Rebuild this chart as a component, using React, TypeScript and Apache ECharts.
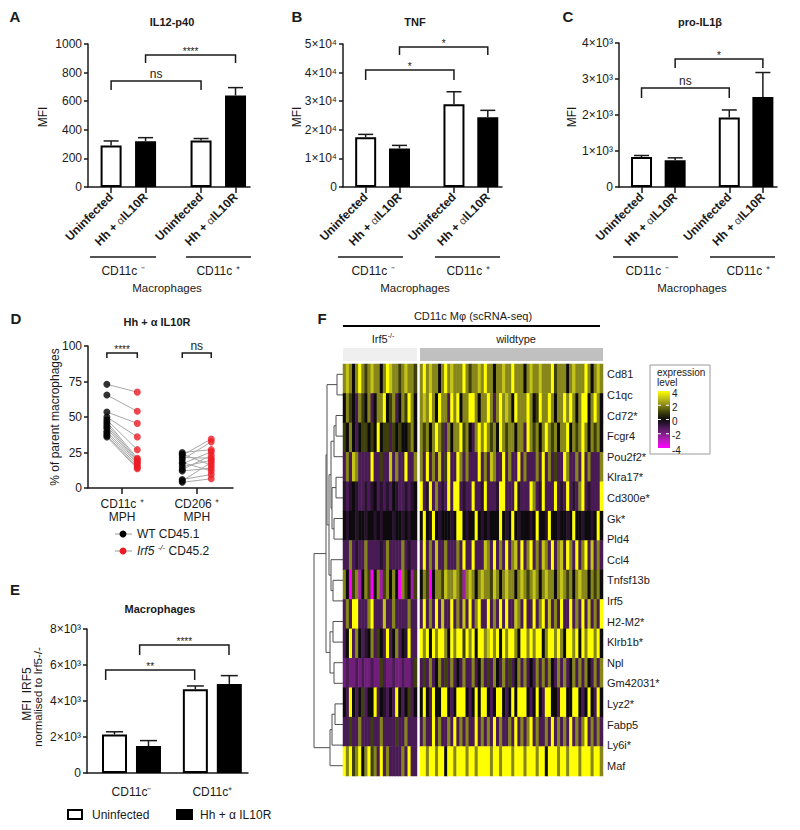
import React, { useEffect, useRef } from 'react';
import * as echarts from 'echarts';

const FONT = '"Liberation Sans", Arial, Helvetica, sans-serif';
const INK = '#1a1a1a';

// ---------- Panels A, B, C, E (bar charts): bar x positions ----------
const barPositions = [0.67, 1.67, 3.28, 4.28];
const irf5BarPositions = [0.81, 1.81, 3.19, 4.19];
const irf5GroupCenters = [1.31, 3.69];

const il12Mean = [290, 320, 325, 640];
const il12Sem = [32, 25, 14, 55];
const il12Ticks = ['0', '200', '400', '600', '800', '1000'];
const il12Brackets = [[1.67, 4.28, 923, 867], [0.67, 3.28, 741, 678]];
const il12BracketLabels = ['****', 'ns'];

const tnfMean = [17400, 13500, 28900, 24400];
const tnfSem = [1000, 1050, 4400, 2400];
const tnfTicks = ['0', '1×10⁴', '2×10⁴', '3×10⁴', '4×10⁴', '5×10⁴'];
const tnfBrackets = [[1.67, 4.28, 48950, 46150], [0.67, 3.28, 40900, 37400]];
const tnfBracketLabels = ['*', '*'];

const il1bMean = [830, 740, 1930, 2500];
const il1bSem = [45, 70, 210, 680];
const il1bTicks = ['0', '1×10³', '2×10³', '3×10³', '4×10³'];
const il1bBrackets = [[1.67, 4.28, 3555, 3305], [0.67, 3.28, 2750, 2472]];
const il1bBracketLabels = ['*', 'ns'];

const irf5Mean = [2140, 1500, 4650, 4950];
const irf5Sem = [150, 300, 185, 460];
const irf5Ticks = ['0', '2×10³', '4×10³', '6×10³', '8×10³'];
const irf5Brackets = [[1.55, 4.18, 7111, 6555], [0.55, 3.17, 5722, 5167]];
const irf5BracketLabels = ['****', '**'];

// ---------- Panel D (paired dots) ----------
const dPositions = [1.3, 3.4, 6.5, 8.5];
const dCategoryCenters = [2.35, 7.5];
const dCategoryLabels = ['CD11c ⁺\nMPH', 'CD206 ⁺\nMPH'];
const dTicks = ['0', '25', '50', '75', '100'];
const wtCd11c = [73, 65.5, 53.5, 50, 48, 46.5, 45, 43.5, 42, 40, 38.5, 37, 36];
const irf5Cd11c = [67.5, 54, 45.5, 36, 27, 21, 20, 19, 18, 17, 15.5, 14.5, 13.5];
const wtCd206 = [25, 24, 23, 21.5, 20, 18, 17, 15, 13, 12, 6, 5, 4];
const irf5Cd206 = [27, 16, 34.5, 21, 32.5, 12, 25.5, 19.5, 23, 14, 9.5, 18, 6.5];
const dBrackets = [[1.3, 3.4, 95, 91.5], [6.5, 8.5, 95, 91.5]];
const dBracketLabels = ['****', 'ns'];

// ---------- Panel F (heatmap) ----------
const genes = ['Cd81', 'C1qc', 'Cd72*', 'Fcgr4', 'Pou2f2*', 'Klra17*', 'Cd300e*', 'Gk*', 'Pld4', 'Ccl4',
  'Tnfsf13b', 'Irf5', 'H2-M2*', 'Klrb1b*', 'Npl', 'Gm42031*', 'Lyz2*', 'Fabp5', 'Ly6i*', 'Maf'];
// expression level codes (Irf5-/- cells | wildtype cells)
const heatCode: Record<string, number> = { M: -4, m: -2.5, n: -1.8, p: -1.1, d: -0.5, k: 0, o: 1, O: 2, y: 3, Y: 4 };
const heatRows = [
  'OyOkOY OoOyOO kOYyOO oOyOOo | OYOyOOkOYO yOOOYOoOOy OYOOkOOyOO YOOOkOyOOy OOOYoOOOkO yOOOYOkOyO',
  'kOokpO okOpkO OYkoOp kOoYOk | OyOYOkYOOp YOYkOOYYOk OOYOpOYOyO kYOOOYOkoY OOYOkOOYOY OkOYYkOYOk',
  'okOkpk ookokY koopok okkoOk | OoOkOYOopO kOOYoOkpOY OYOoOkYOoO OkOOpYOoOk OYOoOkOOYk OoOYOkOoOk',
  'pOpyOp pppYpp oppypO ppYppO | OpYpOpypoY ppYOpOpppY pOpyOppYpO ppYpOpppOp YpOpoppYOp pOpYpOpppO',
  'dpdkdp pdpdkp dpdpkd ppdpdk | YpdYpOpdpY pYYpdppYpp dYpppdYYpp pYdpppYOpd YpppYpdpYp dpOYpdpppY',
  'kdkkdk kdkkdk dkkkdk kdkdkk | kYkdYkdkkk dkYYkdkkYk dkdkkkYkdk YkdkkkdkYk kdYkkdkkdk YkkdkkdkYk',
  'ppOpdp pOpppp dpOppp pOpdpp | pYpOpyppOp ppOpYppYpp pyOpYpOpYp OypYpOYpOp yOpYpOypYO pYpOYpypOp',
  'OkMoOm kOoMkO moOkOk MOokmo | kOoMkOOoyO OyOomOyOkO yOOoyOkOyO OkOyOoOyOk OyOOkOyOoO kOyOOkOoOk',
  'pOpYYp ppOYpp pyppOp pppOpp | pYpOpYpypp YpOpypYpOY ppYpOpYpYp pyOpYppYpO YpypOpYppY pOpYpypOpY',
  'pkYpOk pdkOpo kpYpkO pkdYpp | YOYkYOYYOk YOYYoYOYkY YOyYOYkYOY YOkYYOYOYY kOYYOYOkYY OYkYOYYOYk',
  'npnnpn pnnpnn opnnpn npnnpo | popOpkOpop OpkpOppOpk OpopOkpOpo pkOpOpkpOp OpOkpOpOpk OpOpOkpOpO',
  'kpYkpk opkkYp kdpkpY kpkopk | kYkpYkkYYk pkYYYkpkYk YYkpkYYkpk YkYYYkpkYk pYYkkpYYkk YYkpkYkpYk',
  'ppoppO pppopp Oppppo ppOppp | pOppYpOppO pYpOpOppYp OpOpYpOppO pYpOpOYpOp pOpYpOpOpY pOpOYpOpOp',
  'YOYoOY kOYoOp YpOppp pOpYpp | YYOYYOYYkY YOYYYOYYOY YYYOYYOYYY OYYYOYYYOY YkYYYOYYOY YYOYYYOYYO',
];
const heatColors = ['#ff00ff', '#c21ac6', '#7d1f85', '#421a4e', '#0d0a0d', '#3f3f0c', '#86861a', '#c4c416', '#ffff00'];
const legendTicks = ['4', '2', '0', '-2', '-4'];
// dendrogram merges: [clusterA, clusterB, height]; leaves 0..19, new clusters from 20
const dendroMerges = [
  [0, 1, 6], [2, 3, 7], [21, 4, 9], [5, 6, 7], [7, 8, 9], [23, 24, 11], [22, 25, 12],
  [10, 11, 10], [9, 27, 12], [26, 28, 14], [20, 29, 16], [12, 13, 10], [14, 15, 9],
  [31, 32, 13], [30, 33, 17], [16, 17, 8], [35, 18, 11], [36, 19, 13], [34, 37, 29],
];

const nearest = (arr: number[], v: number) => {
  let bi = 0;
  arr.forEach((a, i) => { if (Math.abs(a - v) < Math.abs(arr[bi] - v)) bi = i; });
  return bi;
};

const axisLineStyle = { show: true, lineStyle: { color: INK, width: 1.5 } };

function yAxisOf(gridIndex: number, max: number, interval: number, labels: string[]) {
  return {
    type: 'value', gridIndex, min: 0, max, interval,
    axisLine: axisLineStyle,
    axisTick: { show: true, length: 4, lineStyle: { color: INK, width: 1.5 } },
    splitLine: { show: false },
    axisLabel: {
      fontSize: 12, color: INK, fontFamily: FONT, margin: 6,
      formatter: (v: number) => labels[Math.round(v / interval)] ?? '',
    },
  };
}

function condXAxis(gridIndex: number, positions: number[]) {
  return {
    type: 'value', gridIndex, min: 0, max: 4.7,
    axisLine: axisLineStyle, splitLine: { show: false },
    axisTick: { show: true, customValues: positions, length: 6, lineStyle: { color: INK, width: 1.5 } },
    axisLabel: {
      show: true, customValues: positions, rotate: 45, margin: 8,
      formatter: (v: number) => (nearest(positions, v) % 2 === 0 ? '{b|Uninfected}' : '{b|Hh + }{g|α}{b|IL10R}'),
      rich: {
        b: { fontSize: 12, fontWeight: 'bold', color: INK, fontFamily: FONT },
        g: { fontSize: 11, color: '#444', fontFamily: FONT },
      },
    },
  };
}

const errorBarRender = (cap: number) => (params: any, api: any) => {
  const x = api.value(0), m = api.value(1), s = api.value(2);
  const p0 = api.coord([x, m]);
  const p1 = api.coord([x, m + s]);
  const st = { stroke: INK, lineWidth: 1.5 };
  return {
    type: 'group', children: [
      { type: 'line', shape: { x1: p0[0], y1: p0[1], x2: p1[0], y2: p1[1] }, style: st },
      { type: 'line', shape: { x1: p1[0] - cap / 2, y1: p1[1], x2: p1[0] + cap / 2, y2: p1[1] }, style: st },
    ],
  };
};

const bracketRender = (labels: string[]) => (params: any, api: any) => {
  const x1 = api.value(0), x2 = api.value(1), yt = api.value(2), yl = api.value(3);
  const a = api.coord([x1, yl]), b = api.coord([x1, yt]), c = api.coord([x2, yt]), d = api.coord([x2, yl]);
  const label = labels[params.dataIndex];
  const star = label.indexOf('*') >= 0;
  return {
    type: 'group', children: [
      { type: 'polyline', shape: { points: [a, b, c, d] }, style: { stroke: INK, lineWidth: 1.5, fill: null } },
      {
        type: 'text', x: (b[0] + c[0]) / 2, y: star ? b[1] + 1 : b[1] - 1,
        style: { text: label, fontSize: star ? 10 : 12, fontFamily: FONT, fill: INK, align: 'center', verticalAlign: 'bottom' },
      },
    ],
  };
};

function barPanel(gi: number, positions: number[], mean: number[], sem: number[], brackets: number[][], labels: string[], barWidth: number, cap: number) {
  return [
    {
      type: 'bar', xAxisIndex: gi, yAxisIndex: gi, barWidth, z: 2,
      data: mean.map((v, i) => ({
        value: [positions[i], v],
        itemStyle: i % 2 === 0 ? { color: '#ffffff', borderColor: '#000', borderWidth: 2 } : { color: '#000', borderColor: '#000', borderWidth: 2 },
      })),
    },
    {
      type: 'custom', xAxisIndex: gi, yAxisIndex: gi, z: 3, renderItem: errorBarRender(cap),
      encode: { x: 0, y: [1, 2] },
      data: mean.map((v, i) => [positions[i], v, sem[i]]),
    },
    {
      type: 'custom', xAxisIndex: gi, yAxisIndex: gi, z: 3, renderItem: bracketRender(labels),
      encode: { x: [0, 1], y: [2, 3] },
      data: brackets,
    },
  ];
}

function buildOption() {
  // heatmap data
  const parsed = heatRows.map((r) => r.split('|').map((s) => s.replace(/\s+/g, '')));
  const nIrf = parsed[0][0].length;
  const nWt = parsed[0][1].length;
  const irfData: number[][] = [];
  const wtData: number[][] = [];
  parsed.forEach((row, r) => {
    row[0].split('').forEach((ch, c) => irfData.push([c, r, heatCode[ch]]));
    row[1].split('').forEach((ch, c) => wtData.push([c, r, heatCode[ch]]));
  });
  const rowIds = parsed.map((_, i) => String(i));

  // dendrogram
  const pos: { h: number; y: number }[] = genes.map((_, i) => ({ h: 0, y: i }));
  const dendroData: number[][] = [];
  dendroMerges.forEach(([a, b, h]) => {
    const A = pos[a], B = pos[b];
    dendroData.push([h, A.h, A.y, B.h, B.y]);
    pos.push({ h, y: (A.y + B.y) / 2 });
  });

  const pairData: number[][] = [];
  wtCd11c.forEach((v, i) => pairData.push([dPositions[0], v, dPositions[1], irf5Cd11c[i]]));
  wtCd206.forEach((v, i) => pairData.push([dPositions[2], v, dPositions[3], irf5Cd206[i]]));

  const series: any[] = [];
  series.push(...barPanel(0, barPositions, il12Mean, il12Sem, il12Brackets, il12BracketLabels, 21, 15));
  series.push(...barPanel(1, barPositions, tnfMean, tnfSem, tnfBrackets, tnfBracketLabels, 21, 15));
  series.push(...barPanel(2, barPositions, il1bMean, il1bSem, il1bBrackets, il1bBracketLabels, 21, 15));
  series.push(...barPanel(4, irf5BarPositions, irf5Mean, irf5Sem, irf5Brackets, irf5BracketLabels, 25, 17));

  // Panel D
  series.push({
    type: 'custom', xAxisIndex: 3, yAxisIndex: 3, z: 2, encode: { x: [0, 2], y: [1, 3] }, data: pairData,
    renderItem: (params: any, api: any) => {
      const a = api.coord([api.value(0), api.value(1)]);
      const b = api.coord([api.value(2), api.value(3)]);
      return { type: 'line', shape: { x1: a[0], y1: a[1], x2: b[0], y2: b[1] }, style: { stroke: '#a8a8a8', lineWidth: 1 } };
    },
  });
  series.push({
    type: 'scatter', name: 'WT CD45.1', xAxisIndex: 3, yAxisIndex: 3, z: 4, symbolSize: 7,
    itemStyle: { color: '#000' },
    data: [...wtCd11c.map((v) => [dPositions[0], v]), ...wtCd206.map((v) => [dPositions[2], v])],
  });
  series.push({
    type: 'scatter', name: 'Irf5-/- CD45.2', xAxisIndex: 3, yAxisIndex: 3, z: 4, symbolSize: 7,
    itemStyle: { color: '#ec1c24' },
    data: [...irf5Cd11c.map((v) => [dPositions[1], v]), ...irf5Cd206.map((v) => [dPositions[3], v])],
  });
  series.push({
    type: 'custom', xAxisIndex: 3, yAxisIndex: 3, z: 3, renderItem: bracketRender(dBracketLabels),
    encode: { x: [0, 1], y: [2, 3] }, data: dBrackets,
  });

  // dendrogram
  series.push({
    type: 'custom', xAxisIndex: 5, yAxisIndex: 5, encode: { x: [0, 1, 3], y: [2, 4] }, data: dendroData,
    renderItem: (params: any, api: any) => {
      const pts = [
        api.coord([api.value(1), api.value(2)]),
        api.coord([api.value(0), api.value(2)]),
        api.coord([api.value(0), api.value(4)]),
        api.coord([api.value(3), api.value(4)]),
      ];
      return { type: 'polyline', shape: { points: pts }, style: { stroke: '#505050', lineWidth: 1, fill: null } };
    },
  });
  const heatIdx = series.length;
  series.push({ type: 'heatmap', xAxisIndex: 6, yAxisIndex: 6, data: irfData, itemStyle: { borderWidth: 0 } });
  series.push({ type: 'heatmap', xAxisIndex: 7, yAxisIndex: 7, data: wtData, itemStyle: { borderWidth: 0 } });

  const hidden = { show: false };
  const xAxis: any[] = [
    condXAxis(0, barPositions),
    condXAxis(1, barPositions),
    condXAxis(2, barPositions),
    {
      type: 'value', gridIndex: 3, min: 0, max: 10, axisLine: axisLineStyle, splitLine: hidden,
      axisTick: { show: true, customValues: dCategoryCenters, length: 6, lineStyle: { color: INK, width: 1.5 } },
      axisLabel: {
        customValues: dCategoryCenters, margin: 9, lineHeight: 13, fontSize: 12, color: INK, fontFamily: FONT,
        formatter: (v: number) => dCategoryLabels[nearest(dCategoryCenters, v)],
      },
    },
    {
      type: 'value', gridIndex: 4, min: 0, max: 4.74, axisLine: axisLineStyle, splitLine: hidden,
      axisTick: hidden,
      axisLabel: {
        customValues: irf5GroupCenters, margin: 13, fontSize: 12, color: INK, fontFamily: FONT,
        formatter: (v: number) => (nearest(irf5GroupCenters, v) === 0 ? 'CD11c⁻' : 'CD11c⁺'),
      },
    },
    { type: 'value', gridIndex: 5, min: 0, max: 31, inverse: true, show: false },
    { type: 'category', gridIndex: 6, data: Array.from({ length: nIrf }, (_, i) => String(i)), show: false },
    { type: 'category', gridIndex: 7, data: Array.from({ length: nWt }, (_, i) => String(i)), show: false },
  ];
  const yAxis: any[] = [
    yAxisOf(0, 1000, 200, il12Ticks),
    yAxisOf(1, 50000, 10000, tnfTicks),
    yAxisOf(2, 4000, 1000, il1bTicks),
    yAxisOf(3, 100, 25, dTicks),
    yAxisOf(4, 8000, 2000, irf5Ticks),
    { type: 'value', gridIndex: 5, min: -0.5, max: genes.length - 0.5, inverse: true, show: false },
    { type: 'category', gridIndex: 6, data: rowIds, inverse: true, show: false },
    { type: 'category', gridIndex: 7, data: rowIds, inverse: true, show: false },
    {
      type: 'category', gridIndex: 7, data: genes, inverse: true, position: 'right',
      axisLine: hidden, axisTick: hidden, splitLine: hidden,
      axisLabel: { fontSize: 11, color: INK, fontFamily: FONT, margin: 4, interval: 0 },
    },
  ];

  const g = { containLabel: false, outerBoundsMode: 'none' };
  const grid = [
    { ...g, left: 88, top: 44, width: 162, height: 143 },
    { ...g, left: 343, top: 44, width: 159, height: 143 },
    { ...g, left: 619, top: 43, width: 158, height: 144 },
    { ...g, left: 88, top: 346, width: 145, height: 142 },
    { ...g, left: 87, top: 629, width: 161, height: 144 },
    { ...g, left: 312, top: 364, width: 31, height: 412 },
    { ...g, left: 343, top: 364, width: 74, height: 412 },
    { ...g, left: 420, top: 364, width: 183, height: 412 },
  ];

  // ---------- annotations ----------
  const txt = (x: number, y: number, text: string, o: any = {}, extra: any = {}) => ({
    type: 'text', x, y, z: 100, ...extra,
    style: { text, fill: INK, fontSize: 12, fontFamily: FONT, align: 'center', verticalAlign: 'middle', ...o },
  });
  const ln = (x1: number, y1: number, x2: number, y2: number, w = 1.5, c = INK) => ({
    type: 'line', z: 100, shape: { x1, y1, x2, y2 }, style: { stroke: c, lineWidth: w },
  });
  const supRich = (size = 12) => ({
    a: { fontSize: size, fill: INK, color: INK, fontFamily: FONT, lineHeight: size + 4 },
    s: { fontSize: size - 4, fill: INK, color: INK, fontFamily: FONT, verticalAlign: 'top', lineHeight: size - 4 },
    i: { fontSize: size, fill: INK, color: INK, fontFamily: FONT, fontStyle: 'italic', lineHeight: size + 4 },
    si: { fontSize: size - 4, fill: INK, color: INK, fontFamily: FONT, fontStyle: 'italic', verticalAlign: 'top', lineHeight: size - 4 },
  });
  const bold = { fontWeight: 'bold' };
  const rot = { rotation: Math.PI / 2 };

  const elements: any[] = [
    txt(15, 16, 'A', { fontSize: 15, ...bold }),
    txt(297, 16, 'B', { fontSize: 15, ...bold }),
    txt(568, 16, 'C', { fontSize: 15, ...bold }),
    txt(16, 318, 'D', { fontSize: 15, ...bold }),
    txt(15, 589, 'E', { fontSize: 15, ...bold }),
    txt(322, 318, 'F', { fontSize: 15, ...bold }),
    txt(172, 22, 'IL12-p40', { fontSize: 11, ...bold }),
    txt(415, 22, 'TNF', { fontSize: 11, ...bold }),
    txt(700, 22, 'pro-IL1β', { fontSize: 11, ...bold }),
    txt(157, 322, 'Hh + α IL10R', { fontSize: 11, ...bold }),
    txt(160, 609, 'Macrophages', { fontSize: 11, ...bold }),
    txt(43, 117, 'MFI', {}, rot),
    txt(297, 117, 'MFI', {}, rot),
    txt(572, 117, 'MFI', {}, rot),
    txt(55, 417, '% of parent macrophages', {}, rot),
    txt(27, 694, 'MFI  IRF5', {}, rot),
    txt(38, 697, 'normalised to Irf5-/-', { fontSize: 11.5 }, rot),
  ];
  const groupBlocks = [
    { l1: [90, 156], l2: [186, 251], c1: 123, c2: 218, m: 167 },
    { l1: [338, 403], l2: [435, 500], c1: 373, c2: 468, m: 415 },
    { l1: [613, 678], l2: [710, 775], c1: 647, c2: 748, m: 692 },
  ];
  groupBlocks.forEach((b) => {
    elements.push(ln(b.l1[0], 257, b.l1[1], 257));
    elements.push(ln(b.l2[0], 257, b.l2[1], 257));
    elements.push(txt(b.c1, 271, 'CD11c ⁻'));
    elements.push(txt(b.c2, 271, 'CD11c ⁺'));
    elements.push(txt(b.m, 288, 'Macrophages', { fontSize: 11.5 }));
  });
  // D legend
  elements.push(ln(115, 534, 132, 534, 1, '#9a9a9a'));
  elements.push({ type: 'circle', z: 100, shape: { cx: 123, cy: 534, r: 3.5 }, style: { fill: '#000' } });
  elements.push(txt(137, 534, 'WT CD45.1', { align: 'left' }));
  elements.push(ln(115, 551, 132, 551, 1, '#9a9a9a'));
  elements.push({ type: 'circle', z: 100, shape: { cx: 123, cy: 551, r: 3.5 }, style: { fill: '#ec1c24' } });
  elements.push(txt(137, 551, '{i|Irf5 }{si|-/-}{a| CD45.2}', { align: 'left', rich: supRich() }));
  // E legend
  elements.push({ type: 'rect', z: 100, shape: { x: 68, y: 810, width: 14, height: 9 }, style: { fill: '#fff', stroke: '#000', lineWidth: 2 } });
  elements.push(txt(92, 815, 'Uninfected', { align: 'left' }));
  elements.push({ type: 'rect', z: 100, shape: { x: 177, y: 810, width: 15, height: 9 }, style: { fill: '#000', stroke: '#000', lineWidth: 2 } });
  elements.push(txt(200, 815, 'Hh + α IL10R', { align: 'left' }));
  // F header
  elements.push(txt(473, 316, 'CD11c Mφ (scRNA-seq)', { fontSize: 11 }));
  elements.push(ln(343, 326, 600, 326, 2, '#000'));
  elements.push(txt(383, 339, '{a|Irf5}{s|-/-}', { rich: supRich(11) }));
  elements.push(txt(516, 339, 'wildtype', { fontSize: 11 }));
  elements.push({ type: 'rect', z: 100, shape: { x: 343, y: 348, width: 74, height: 13 }, style: { fill: '#efefef' } });
  elements.push({ type: 'rect', z: 100, shape: { x: 420, y: 348, width: 183, height: 13 }, style: { fill: '#c0c0c0' } });
  // F colour legend
  elements.push({ type: 'rect', z: 100, shape: { x: 650, y: 365, width: 60, height: 89 }, style: { fill: '#fff', stroke: '#9a9a9a', lineWidth: 1 } });
  elements.push(txt(657, 372, 'expression', { fontSize: 10, align: 'left' }));
  elements.push(txt(657, 382, 'level', { fontSize: 10, align: 'left' }));
  const stops = heatColors.slice().reverse().map((c, i) => ({ offset: i / (heatColors.length - 1), color: c }));
  elements.push({
    type: 'rect', z: 100, shape: { x: 658, y: 391, width: 12, height: 57 },
    style: { fill: new echarts.graphic.LinearGradient(0, 0, 0, 1, stops) },
  });
  legendTicks.forEach((t, i) => {
    const y = 391 + (i / (legendTicks.length - 1)) * 57;
    if (i > 0 && i < legendTicks.length - 1) {
      elements.push(ln(658, y, 661, y, 1, '#ffffff'));
      elements.push(ln(666, y, 669, y, 1, '#ffffff'));
    }
    elements.push(txt(672, y + 2, t, { fontSize: 10, align: 'left' }));
  });

  return {
    animation: false,
    backgroundColor: '#ffffff',
    textStyle: { fontFamily: FONT },
    grid, xAxis, yAxis, series,
    visualMap: {
      type: 'continuous', show: false, min: -4, max: 4, dimension: 2,
      seriesIndex: [heatIdx, heatIdx + 1], inRange: { color: heatColors },
    },
    graphic: { elements },
  };
}

export default function App() {
  const ref = useRef<HTMLDivElement>(null);
  useEffect(() => {
    document.body.style.margin = '0';
    const chart = echarts.init(ref.current as HTMLDivElement, null, { renderer: 'svg' });
    chart.setOption(buildOption() as any);
    return () => chart.dispose();
  }, []);
  return <div ref={ref} style={{ width: 800, height: 830 }} />;
}
